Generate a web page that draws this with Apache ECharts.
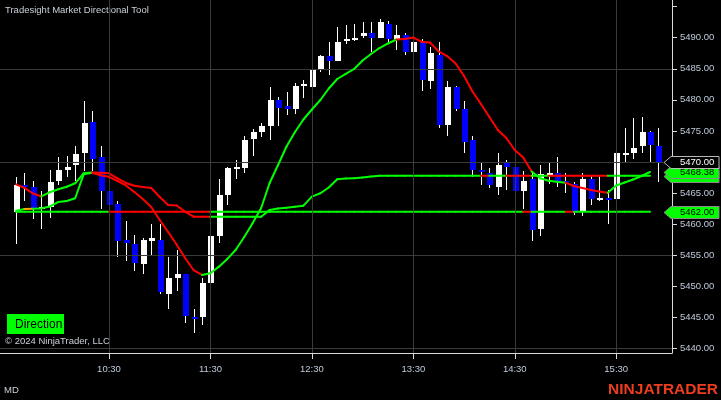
<!DOCTYPE html>
<html><head><meta charset="utf-8">
<script src="https://cdn.jsdelivr.net/npm/echarts@6/dist/echarts.min.js"></script>
<style>html,body{margin:0;padding:0;background:#000;}#c{width:721px;height:400px;}</style>
</head><body><div id="c"></div>
<script>
// ---- data (5-minute bars, 9:35 .. 15:55) ----
const xTickIndex = [11, 23, 35, 47, 59, 71];
const xTickLabels = ['10:30', '11:30', '12:30', '13:30', '14:30', '15:30'];
const yTickValues = [5440, 5445, 5450, 5455, 5460, 5465, 5470, 5475, 5480, 5485, 5490, 5495];
const yLabelValues = [5440, 5445, 5450, 5455, 5460, 5465, 5470, 5475, 5480, 5485, 5490];
const gridLevels = [5440, 5455, 5470, 5485];

const opens = [5462.0,5466.25,5466.0,5462.5,5462.75,5467.0,5468.75,5469.5,5471.5,5476.5,
5470.75,5465.25,5463.25,5457.5,5456.75,5453.5,5457.25,5457.5,5448.75,5451.25,
5452.0,5445.0,5445.0,5450.5,5458.0,5464.75,5469.0,5469.0,5473.75,5474.75,
5475.75,5480.0,5479.0,5478.5,5482.25,5482.0,5485.0,5487.0,5486.25,5489.5,
5489.75,5490.25,5490.75,5490.0,5492.25,5489.75,5490.5,5487.75,5489.25,5483.0,
5487.25,5476.0,5482.0,5478.5,5473.5,5468.75,5468.25,5466.0,5469.75,5469.25,
5465.25,5467.25,5459.25,5468.0,5468.25,5467.0,5466.5,5462.0,5467.25,5464.0,
5464.25,5464.0,5471.25,5471.5,5472.5,5474.75,5472.5];
const highs = [5467.5,5468.25,5467.0,5465.25,5468.75,5470.75,5471.0,5472.5,5479.75,5478.25,
5472.5,5466.75,5463.75,5460.5,5458.25,5457.75,5460.0,5460.0,5454.75,5455.75,
5452.0,5446.25,5451.25,5458.5,5467.25,5469.25,5470.25,5474.25,5475.25,5476.25,
5482.0,5480.5,5481.25,5482.75,5483.25,5486.25,5487.25,5489.25,5491.75,5492.0,
5492.25,5492.5,5492.5,5493.0,5492.75,5492.0,5490.75,5490.5,5489.75,5488.5,
5489.25,5483.0,5482.25,5479.75,5474.25,5469.75,5469.0,5471.5,5470.25,5471.75,
5468.5,5468.25,5469.5,5469.75,5470.75,5468.25,5466.75,5468.25,5467.75,5467.75,
5465.5,5472.0,5475.5,5477.0,5477.25,5475.0,5475.5];
const lows = [5456.75,5463.75,5460.75,5459.25,5461.0,5466.25,5467.5,5467.0,5468.5,5468.5,
5462.5,5461.0,5454.75,5454.0,5452.5,5452.0,5455.0,5448.75,5446.25,5449.25,
5444.0,5442.5,5443.75,5449.0,5457.0,5463.0,5467.25,5468.25,5471.0,5474.0,
5473.5,5475.75,5477.5,5477.75,5480.25,5481.25,5484.5,5484.0,5486.25,5489.0,
5489.5,5490.0,5487.75,5490.0,5489.25,5488.0,5487.25,5487.25,5481.5,5481.75,
5475.5,5474.25,5478.25,5471.5,5467.5,5466.25,5465.75,5464.75,5465.5,5464.5,
5462.5,5457.25,5458.0,5466.5,5466.0,5465.0,5461.5,5461.25,5463.0,5463.75,
5460.0,5463.0,5469.75,5470.5,5471.5,5469.75,5466.75];
const closes = [5466.25,5466.0,5462.5,5462.75,5466.75,5468.75,5469.25,5471.25,5476.25,5470.5,
5465.25,5463.0,5457.25,5457.0,5453.75,5457.5,5457.75,5449.0,5451.25,5452.0,
5445.25,5444.75,5450.5,5458.0,5464.75,5469.0,5469.25,5473.5,5474.75,5475.75,
5480.0,5478.75,5478.5,5482.25,5482.5,5484.75,5487.0,5486.25,5489.25,5489.75,
5490.0,5490.75,5490.0,5492.5,5489.75,5490.5,5487.75,5489.25,5483.25,5487.5,
5476.0,5482.0,5478.5,5473.25,5468.75,5468.5,5466.25,5469.5,5469.25,5465.25,
5467.0,5459.0,5468.0,5468.25,5466.75,5466.75,5461.75,5467.25,5464.0,5464.25,
5464.0,5471.5,5471.5,5472.25,5474.75,5472.75,5470.0];

// slow direction line (bars 0..75)
const lineA = [5466.40,5465.82,5464.92,5464.44,5465.13,5465.60,5466.01,5466.56,5468.17,5468.30,
5468.25,5468.17,5467.35,5466.61,5466.16,5465.97,5465.81,5464.36,5463.07,5462.99,
5461.99,5461.18,5461.18,5461.18,5461.18,5461.18,5461.18,5461.18,5461.18,5461.18,
5462.27,5462.51,5462.63,5462.79,5462.96,5464.41,5464.95,5465.89,5467.21,5467.32,
5467.38,5467.50,5467.66,5467.78,5467.78,5467.78,5467.78,5467.78,5467.78,5467.78,
5467.78,5467.78,5467.78,5467.78,5467.78,5467.78,5467.78,5467.78,5467.78,5467.78,
5467.78,5467.78,5467.78,5467.78,5467.78,5467.78,5467.78,5467.78,5467.78,5467.78,
5467.78,5467.78,5467.78,5467.78,5467.78,5467.78];
// fast direction line (bars 0..75)
const lineB = [5462.15,5462.42,5462.47,5462.52,5462.83,5463.55,5463.71,5464.15,5468.01,5468.27,
5467.85,5467.61,5466.93,5466.21,5465.16,5464.03,5462.75,5460.65,5458.72,5456.71,
5454.54,5452.60,5451.80,5452.07,5453.14,5454.39,5455.87,5457.92,5460.17,5462.58,
5466.61,5469.51,5472.49,5474.82,5476.83,5478.44,5479.97,5481.82,5483.35,5484.16,
5484.96,5486.33,5487.38,5488.34,5489.07,5489.71,5489.80,5490.03,5489.34,5489.20,
5487.78,5487.05,5485.85,5483.83,5481.34,5479.33,5477.23,5475.14,5473.85,5471.92,
5470.71,5468.46,5467.37,5466.98,5466.80,5466.66,5466.13,5465.80,5465.48,5465.24,
5465.05,5466.21,5466.69,5467.18,5467.74,5468.38];
// fixed level line (bars 0..75)
const levelValue = 5462.00;
const levelBars = 76;

// colour of each segment ending at bar i (i = 1..75): G green, R red, O orange
const statesA = 'RRRGGGGGGRRRRRRRRRRRRRRGGGGGGGGGGGGGGGGGGGGGGGGGGGGGGGGRGGRRRGGRRRRRRRGGGGG'.split('');
const statesB = 'GOGGGGGGGRRRRRRRRRRRRRGGGGGGGGGGGGGGGGGGGGGGGRRRRRRRRRRRRRRRRGGGGRRRRRGGGGG'.split('');
const statesL = 'GGGGGGGGGGGRRRRRRRRRRRRGGGGGGGGGGGGGGGGGGGGGGGGGGGGGGGGGGGGGRGGGGRGGGGGGGGG'.split('');

// ---- chart ----
const X_MIN = -1.893, X_MAX = 77.6, Y_MIN = 5439.24, Y_MAX = 5496.07;
const FONT = '"Liberation Sans", Arial, sans-serif';
const AXIS_TXT = '#bfcadb';
const colorMap = { G: '#00ff00', R: '#ff0000', O: '#ffa500' };

const candleData = opens.map((o, i) => [i, o, closes[i], lows[i], highs[i]]);
const levelVals = new Array(levelBars).fill(levelValue);

function segData(vals) {
  const out = [];
  for (let i = 1; i < vals.length; i++) out.push([i, vals[i - 1], vals[i]]);
  return out;
}
function segSeries(vals, states, z) {
  return {
    type: 'custom', coordinateSystem: 'cartesian2d', z: z, silent: true, animation: false,
    encode: { x: 0, y: [1, 2] },
    data: segData(vals),
    renderItem: function (params, api) {
      const i = api.value(0);
      const a = api.coord([i - 1, api.value(1)]);
      const b = api.coord([i, api.value(2)]);
      return {
        type: 'line',
        shape: { x1: a[0], y1: a[1], x2: b[0], y2: b[1] },
        style: { stroke: colorMap[states[params.dataIndex]], lineWidth: 2, lineCap: 'round' }
      };
    }
  };
}

const flags = [
  { v: lineA[lineA.length - 1], fill: '#00ff00', txt: '#000000', stroke: '#8a8a8a' },
  { v: lineB[lineB.length - 1], fill: '#00ff00', txt: '#000000', stroke: '#8a8a8a' },
  { v: closes[closes.length - 1], fill: '#000000', txt: '#ffffff', stroke: '#b8b8b8' },
  { v: levelValue, fill: '#00ff00', txt: '#000000', stroke: '#8a8a8a' }
];

const chart = echarts.init(document.getElementById('c'), null, { renderer: 'canvas' });
chart.setOption({
  backgroundColor: '#000000',
  animation: false,
  grid: { left: 0, right: 49, top: 0, bottom: 47, containLabel: false, outerBoundsMode: 'none' },
  xAxis: {
    type: 'value', min: X_MIN, max: X_MAX, position: 'bottom',
    axisLine: { show: true, onZero: false, lineStyle: { color: '#d9d9d9', width: 1 } },
    axisTick: { show: true, length: 6, customValues: xTickIndex, lineStyle: { color: '#d9d9d9' } },
    axisLabel: {
      customValues: xTickIndex, margin: 11, color: AXIS_TXT, fontSize: 9.5, fontFamily: FONT,
      formatter: v => { const k = xTickIndex.indexOf(Math.round(v)); return k >= 0 ? xTickLabels[k] : ''; }
    },
    splitLine: { show: false }
  },
  yAxis: {
    type: 'value', min: Y_MIN, max: Y_MAX, position: 'right', scale: true,
    axisLine: { show: true, onZero: false, lineStyle: { color: '#d9d9d9', width: 1 } },
    axisTick: { show: true, length: 5, customValues: yTickValues, lineStyle: { color: '#d9d9d9' } },
    axisLabel: {
      customValues: yLabelValues, margin: 8, color: AXIS_TXT, fontSize: 9.5, fontFamily: FONT,
      formatter: v => Number(v).toFixed(2)
    },
    splitLine: { show: false }
  },
  series: [
    {
      type: 'line', data: [], z: 1, silent: true,
      markLine: {
        silent: true, symbol: ['none', 'none'], animation: false, label: { show: false },
        lineStyle: { color: '#3a3a3a', width: 1, type: 'solid' },
        data: gridLevels.map(v => ({ yAxis: v })).concat(xTickIndex.map(i => ({ xAxis: i })))
      }
    },
    {
      type: 'custom', coordinateSystem: 'cartesian2d', z: 2, silent: true, animation: false,
      encode: { x: 0, y: [1, 2, 3, 4] },
      data: candleData,
      renderItem: function (params, api) {
        const i = api.value(0), o = api.value(1), c = api.value(2), l = api.value(3), h = api.value(4);
        const pO = api.coord([i, o]), pC = api.coord([i, c]), pL = api.coord([i, l]), pH = api.coord([i, h]);
        const X = Math.round(pO[0]);
        const up = c >= o;
        let top = Math.round(Math.min(pO[1], pC[1]));
        let bot = Math.round(Math.max(pO[1], pC[1]));
        if (bot - top < 2) { bot = top + 2; }
        return {
          type: 'group', children: [
            { type: 'line', shape: { x1: X + 0.5, y1: Math.round(pH[1]), x2: X + 0.5, y2: Math.round(pL[1]) },
              style: { stroke: '#ffffff', lineWidth: 1 } },
            { type: 'rect', shape: { x: X - 2, y: top, width: 6, height: bot - top },
              style: { fill: up ? '#ffffff' : '#0000ff' } }
          ]
        };
      }
    },
    segSeries(levelVals, statesL, 3),
    segSeries(lineA, statesA, 4),
    segSeries(lineB, statesB, 5),
    {
      type: 'custom', coordinateSystem: 'cartesian2d', z: 10, silent: true, animation: false, clip: false,
      encode: { x: 0, y: 1 },
      data: flags.map(f => [0, f.v]),
      renderItem: function (params, api) {
        const f = flags[params.dataIndex];
        const cy = Math.round(api.coord([0, f.v])[1]) + 0.5;
        const x0 = params.coordSys.x + params.coordSys.width;
        return {
          type: 'group', children: [
            { type: 'polygon',
              shape: { points: [[x0 - 8, cy], [x0 - 1, cy - 6], [x0 + 47, cy - 6], [x0 + 47, cy + 6], [x0 - 1, cy + 6]] },
              style: { fill: f.fill, stroke: f.stroke, lineWidth: 1 } },
            { type: 'text',
              style: { text: f.v.toFixed(2), x: x0 + 8, y: cy, fill: f.txt, font: '9.5px ' + FONT,
                       align: 'left', verticalAlign: 'middle' } }
          ]
        };
      }
    }
  ],
  graphic: [
    { type: 'text', x: 5, y: 10.7, style: { text: 'Tradesight Market Directional Tool', fill: '#c9d0d8',
      font: '9.5px ' + FONT, align: 'left', verticalAlign: 'middle' } },
    { type: 'rect', shape: { x: 7, y: 314, width: 57, height: 20 }, style: { fill: '#00ff00' } },
    { type: 'text', x: 15, y: 324.5, style: { text: 'Direction', fill: '#000000',
      font: '12px ' + FONT, align: 'left', verticalAlign: 'middle' } },
    { type: 'text', x: 5, y: 341.5, style: { text: '\u00a9 2024 NinjaTrader, LLC', fill: '#c9d0d8',
      font: '9.5px ' + FONT, align: 'left', verticalAlign: 'middle' } },
    { type: 'text', x: 4, y: 390.5, style: { text: 'MD', fill: '#c9d0d8',
      font: '9.5px ' + FONT, align: 'left', verticalAlign: 'middle' } },
    { type: 'text', x: 718, y: 389.5, style: { text: 'NINJATRADER', fill: '#ec3d1e',
      font: 'bold 15.5px ' + FONT, align: 'right', verticalAlign: 'middle' } }
  ]
});
</script>
</body></html>
